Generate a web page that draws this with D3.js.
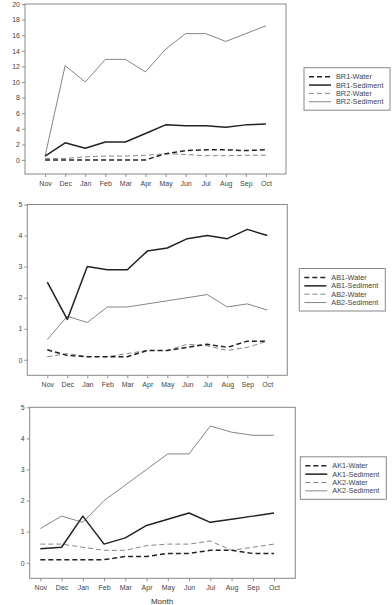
<!DOCTYPE html>
<html>
<head>
<meta charset="utf-8">
<script src="https://cdn.jsdelivr.net/npm/d3@7"></script>
<style>
  body { margin: 0; background: #fff; }
  svg { display: block; font-family: "Liberation Sans", Arial, sans-serif; }
</style>
</head>
<body>
<div id="chart"></div>
<script>
var width = 392,
    height = 605;

var months = ['Nov','Dec','Jan','Feb','Mar','Apr','May','Jun','Jul','Aug','Sep','Oct'];

// panel 1
var br1Water    = [0, 0, 0, 0, 0, 0, 0.8, 1.2, 1.3, 1.3, 1.2, 1.3];
var br1Sediment = [0.5, 2.2, 1.5, 2.3, 2.3, 3.4, 4.5, 4.4, 4.4, 4.2, 4.5, 4.6];
var br2Water    = [0.2, 0.2, 0.4, 0.5, 0.5, 0.6, 0.8, 0.7, 0.55, 0.55, 0.6, 0.6];
var br2Sediment = [0.5, 12.1, 10.0, 12.9, 12.9, 11.3, 14.2, 16.2, 16.2, 15.2, 16.2, 17.2];
var brTicks = [0, 2, 4, 6, 8, 10, 12, 14, 16, 18, 20];

// panel 2
var ab1Water    = [0.32, 0.14, 0.1, 0.1, 0.1, 0.3, 0.3, 0.4, 0.5, 0.4, 0.6, 0.6];
var ab1Sediment = [2.5, 1.3, 3.0, 2.9, 2.9, 3.5, 3.6, 3.9, 4.0, 3.9, 4.2, 4.0];
var ab2Water    = [0.1, 0.2, 0.1, 0.1, 0.2, 0.3, 0.3, 0.5, 0.45, 0.3, 0.4, 0.6];
var ab2Sediment = [0.65, 1.4, 1.2, 1.7, 1.7, 1.8, 1.9, 2.0, 2.1, 1.7, 1.8, 1.6];

// panel 3
var ak1Water    = [0.1, 0.1, 0.1, 0.1, 0.2, 0.2, 0.3, 0.3, 0.4, 0.4, 0.3, 0.3];
var ak1Sediment = [0.45, 0.5, 1.5, 0.6, 0.8, 1.2, 1.4, 1.6, 1.3, 1.4, 1.5, 1.6];
var ak2Water    = [0.6, 0.6, 0.5, 0.4, 0.4, 0.55, 0.6, 0.6, 0.7, 0.4, 0.5, 0.6];
var ak2Sediment = [1.1, 1.5, 1.3, 2.0, 2.5, 3.0, 3.5, 3.5, 4.4, 4.2, 4.1, 4.1];
var smallTicks = [0, 1, 2, 3, 4, 5];

// line styles: thick dashed, thick solid, thin dashed, thin solid
var styles = [
  {stroke: '#222', width: 1.5, dash: '5,3'},
  {stroke: '#222', width: 1.5, dash: null},
  {stroke: '#777', width: 0.9, dash: '5,3'},
  {stroke: '#777', width: 0.9, dash: null}
];

var svg = d3.select('#chart').append('svg')
    .attr('width', width)
    .attr('height', height);

function drawPanel(opts) {
    var g = svg.append('g');

    var x = d3.scaleLinear()
        .domain(opts.xDomain)
        .range([opts.left, opts.right]);
    var y = d3.scaleLinear()
        .domain(opts.yDomain)
        .range([opts.bottom, opts.top]);

    // frame
    g.append('rect')
        .attr('x', opts.left)
        .attr('y', opts.top)
        .attr('width', opts.right - opts.left)
        .attr('height', opts.bottom - opts.top)
        .style('fill', 'none')
        .style('stroke', '#888')
        .style('stroke-width', 1);

    var yAxis = d3.axisLeft(y)
        .tickValues(opts.yTicks)
        .tickSize(3)
        .tickPadding(2)
        .tickFormat(d3.format('d'));
    var gy = g.append('g')
        .attr('transform', 'translate(' + opts.left + ',0)')
        .call(yAxis);

    var xAxis = d3.axisBottom(x)
        .tickValues(d3.range(months.length))
        .tickSize(3)
        .tickPadding(4)
        .tickFormat(function(i) { return months[i]; });
    var gx = g.append('g')
        .attr('transform', 'translate(0,' + opts.bottom + ')')
        .call(xAxis);

    [gx, gy].forEach(function(a) {
        a.select('.domain').remove();
        a.selectAll('line').style('stroke', '#777').style('stroke-width', 0.8);
        a.selectAll('text')
            .style('font-size', '7px')
            .style('fill', '#444')
            .style('font-family', '"Liberation Sans", Arial, sans-serif');
    });

    var line = d3.line()
        .x(function(d, i) { return x(i); })
        .y(function(d) { return y(d); });

    // draw thin grey series first, then the black ones on top
    [3, 2, 1, 0].forEach(function(k) {
        var s = styles[k];
        g.append('path')
            .datum(opts.series[k])
            .attr('d', line)
            .style('fill', 'none')
            .style('stroke', s.stroke)
            .style('stroke-width', s.width)
            .style('stroke-dasharray', s.dash)
            .style('stroke-linejoin', 'round');
    });

    // legend
    var lg = g.append('g');
    lg.append('rect')
        .attr('x', opts.legX)
        .attr('y', opts.legY)
        .attr('width', 86)
        .attr('height', 42.5)
        .style('fill', '#fff')
        .style('stroke', '#888')
        .style('stroke-width', 1);

    var items = lg.selectAll('g.item')
        .data(opts.names)
        .enter().append('g')
        .attr('class', 'item')
        .attr('transform', function(d, i) {
            return 'translate(' + opts.legX + ',' + (opts.legY + 9 + i * 8.35) + ')';
        });

    items.append('line')
        .attr('x1', 5)
        .attr('x2', 27)
        .attr('y1', 0)
        .attr('y2', 0)
        .style('stroke', function(d, i) { return styles[i].stroke; })
        .style('stroke-width', function(d, i) { return styles[i].width; })
        .style('stroke-dasharray', function(d, i) { return styles[i].dash; });

    items.append('text')
        .attr('x', 32)
        .attr('y', 0)
        .attr('dy', '0.35em')
        .text(function(d) { return d; })
        .style('font-size', '7.3px')
        .style('fill', '#444');
}

drawPanel({
    left: 25, right: 286, top: 4, bottom: 174,
    xDomain: [-1, 12], yDomain: [-1.8, 20], yTicks: brTicks,
    series: [br1Water, br1Sediment, br2Water, br2Sediment],
    names: ['BR1-Water', 'BR1-Sediment', 'BR2-Water', 'BR2-Sediment'],
    legX: 304, legY: 67.7
});

drawPanel({
    left: 27.3, right: 287.3, top: 204.5, bottom: 375.3,
    xDomain: [-1, 12], yDomain: [-0.5, 5], yTicks: smallTicks,
    series: [ab1Water, ab1Sediment, ab2Water, ab2Sediment],
    names: ['AB1-Water', 'AB1-Sediment', 'AB2-Water', 'AB2-Sediment'],
    legX: 299.3, legY: 268.5
});

drawPanel({
    left: 29.7, right: 295.3, top: 407.3, bottom: 578.3,
    xDomain: [-0.5, 12], yDomain: [-0.5, 5], yTicks: smallTicks,
    series: [ak1Water, ak1Sediment, ak2Water, ak2Sediment],
    names: ['AK1-Water', 'AK1-Sediment', 'AK2-Water', 'AK2-Sediment'],
    legX: 300.3, legY: 456.8
});

svg.append('text')
    .attr('x', 162)
    .attr('y', 603.5)
    .attr('text-anchor', 'middle')
    .text('Month')
    .style('font-size', '8px')
    .style('fill', '#333');
</script>
</body>
</html>
